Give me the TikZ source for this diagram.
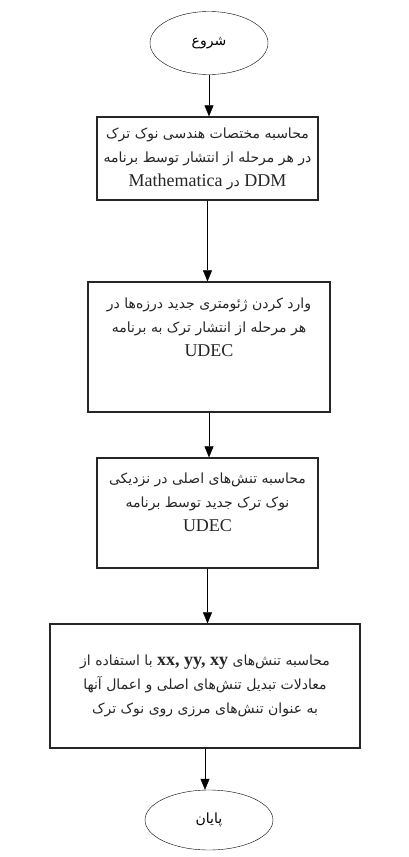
\documentclass[tikz,border=0pt]{standalone}
\usepackage{fontspec}
\setmainfont{Liberation Serif}
\newfontfamily\farsi[Script=Arabic]{DejaVu Sans}
\TeXXeTstate=1
\usetikzlibrary{shapes.geometric,arrows.meta,positioning}
\newcommand{\fa}[1]{{\farsi\fontsize{14}{24}\selectfont\beginR #1\endR}}
\newcommand{\la}[1]{\beginL{\rmfamily\fontsize{18}{24}\selectfont #1}\endL{}}

\begin{document}
\begin{tikzpicture}[x=1pt,y=1pt,
    terminal/.style={ellipse,draw,thin,minimum width=118pt,minimum height=63pt,
        font=\fontsize{14}{24}\selectfont},
    stepbox/.style={rectangle,draw=black!85,line width=1.3pt,align=center,
        text=black!85,font=\fontsize{18}{24}\selectfont},
    flow/.style={-{Triangle[length=11pt,width=9pt]},thin}]
    \useasboundingbox (0,0) rectangle (409,-857);
    % Start and end
    \node (start) [terminal] at (209,-43) {\fa{شروع}};
    \node (finish) [terminal,minimum width=128pt,minimum height=60pt] at (209,-820) {\fa{پایان}};
    % Steps
    \node (coords) [stepbox,minimum width=221pt,minimum height=83pt] at (207.5,-158.5)
        {\fa{محاسبه مختصات هندسی نوک ترک}\\
         \fa{در هر مرحله از انتشار توسط برنامه}\\
         \fa{\la{DDM} در \la{Mathematica}}};
    \node (geom) [stepbox,minimum width=242pt,minimum height=130pt,text depth=40pt] at (209,-347)
        {\fa{وارد کردن ژئومتری جدید درزه‌ها در}\\
         \fa{هر مرحله از انتشار ترک به برنامه}\\
         \la{UDEC}};
    \node (princ) [stepbox,minimum width=221pt,minimum height=110pt,text depth=22pt] at (207.5,-513)
        {\fa{محاسبه تنش‌های اصلی در نزدیکی}\\
         \fa{نوک ترک جدید توسط برنامه}\\
         \la{UDEC}};
    \node (bound) [stepbox,minimum width=310pt,minimum height=124pt] at (205,-686)
        {\fa{محاسبه تنش‌های \la{\bfseries xx, yy, xy} با استفاده از}\\
         \fa{معادلات تبدیل تنش‌های اصلی و اعمال آنها}\\
         \fa{به عنوان تنش‌های مرزی روی نوک ترک}};
    % Arrows
    \draw [flow] (start) -- (start |- coords.north);
    \draw [flow] (coords) -- (coords |- geom.north);
    \draw [flow] (geom) -- (geom |- princ.north);
    \draw [flow] (princ) -- (princ |- bound.north);
    \draw [flow] (bound) -- (bound |- finish.north);
\end{tikzpicture}
\end{document}
